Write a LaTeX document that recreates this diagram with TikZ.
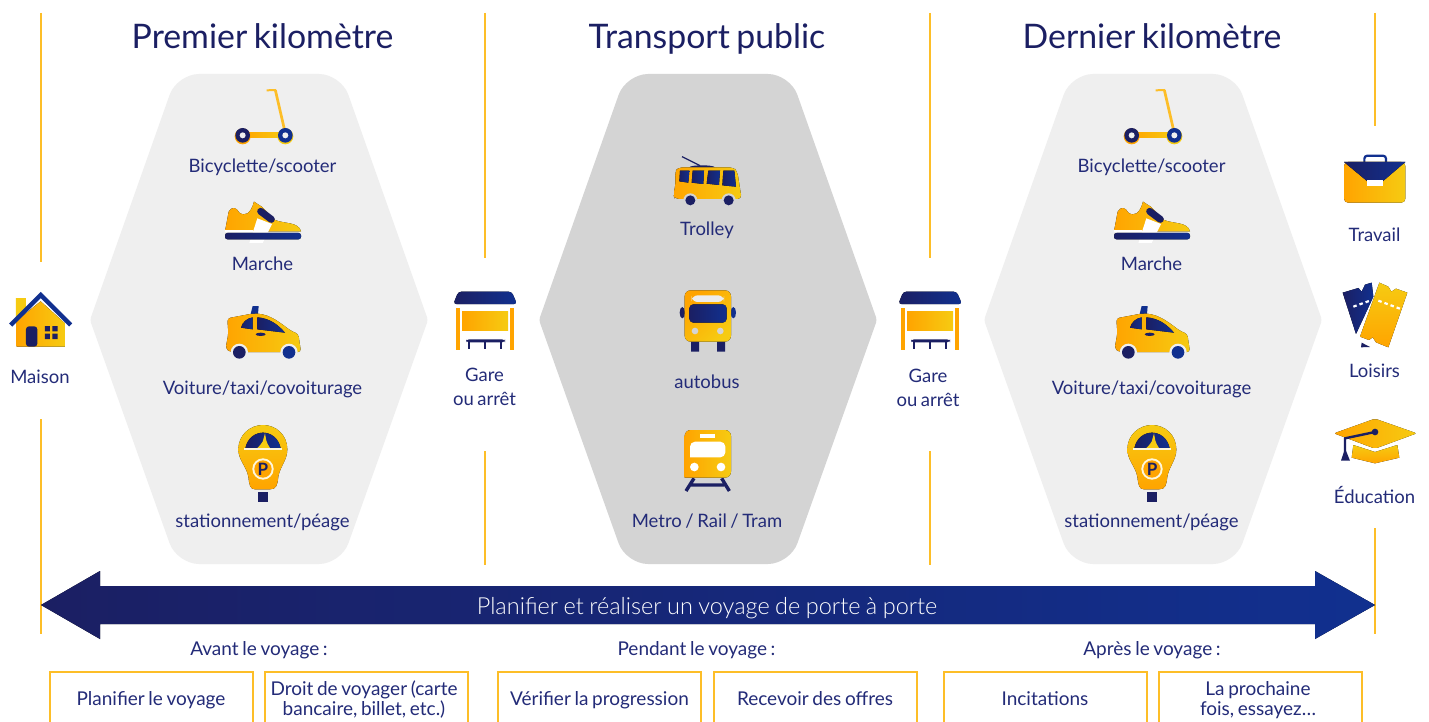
\documentclass[tikz,border=0pt]{standalone}
\usepackage{fontspec}
\setmainfont{Lato}[WordSpace=0.75]
\newfontfamily\lightf{Lato Light}[WordSpace=0.85]
\definecolor{goldL}{HTML}{FFA400}
\definecolor{goldR}{HTML}{F6CB12}
\definecolor{navyL}{HTML}{1B1F63}
\definecolor{navyR}{HTML}{11308F}
\definecolor{txt}{HTML}{232B78}
\definecolor{rule}{HTML}{FDBE28}
\definecolor{hexA}{HTML}{EFEFEF}
\definecolor{hexB}{HTML}{D4D4D4}
\tikzset{
 gold/.style={left color=goldL,right color=goldR,draw=none},
 goldv/.style={top color=goldR,bottom color=goldL,draw=none},
 navy/.style={left color=navyL,right color=navyR,draw=none},
 vline/.style={draw=rule,line width=1.2pt},
 lab/.style={text=txt,font=\fontsize{18.5}{24}\selectfont,inner sep=0pt,align=center,text height=14pt,text depth=4pt},
 phase/.style={lab,font=\fontsize{19}{24}\selectfont},
 boxtxt/.style={text=txt,font=\fontsize{19}{20}\selectfont,inner sep=0pt,align=center,text height=14pt,text depth=4pt},
 ttl/.style={text=navyL,font=\fontsize{33.8}{36}\selectfont,inner sep=0pt,text height=24pt,text depth=7pt},
 zoomed/.style={shift={#1},scale=1/3},
}
\newcommand{\hexshape}[2]{% left x, fill
 \fill[#2] (#1+169,74) [rounded corners=22pt] -- (#1+251,74) [rounded corners=3pt] -- (#1+338,320) [rounded corners=22pt] -- (#1+251,564) -- (#1+87,564) [rounded corners=3pt] -- (#1+0,320) [rounded corners=22pt] -- (#1+87,74) -- cycle;
}
\newcommand{\scootericon}{%
 \begin{scope}[zoomed={(170,70)}]
  \draw[rule,line width=2pt] (290,61) -- (318,60);
  \draw[rule,line width=2.7pt] (316,60) -- (346,190);
  \fill[gold] (218,188) -- (346,188) -- (346,203) -- (218,203) -- cycle;
  \fill[goldL] (218,199) circle (24);
  \fill[goldR] (346,199) circle (24);
  \fill[navyL] (218,196) circle (22);
  \fill[navyR] (346,196) circle (22);
  \fill[hexA] (218,196) circle (9);
  \fill[hexA] (346,196) circle (9);
 \end{scope}}
\newcommand{\shoeicon}{%
 \begin{scope}[zoomed={(170,70)}]
  \fill[gold] (165,484) -- (176,425) .. controls (185,408) and (200,412) .. (208,428) .. controls (225,440) and (242,432) .. (252,395) -- (275,410) -- (315,450) .. controls (345,462) and (385,455) .. (393,484) -- cycle;
  \fill[white] (238,519) -- (262,445) -- (306,462) -- (278,519) -- cycle;
  \fill[white] (165,480) rectangle (250,485);
  \draw[navyL,line width=7pt,line cap=round] (272,424) -- (304,448);
  \fill[navy,rounded corners=2.5pt] (165,489) -- (393,489) -- (393,508) -- (165,508) -- cycle;
 \end{scope}}
\newcommand{\taxiicon}{%
 \begin{scope}[zoomed={(170,290)}]
  \fill[navyR] (248,48) -- (266,48) -- (264,72) -- (242,72) -- cycle;
  \fill[gold,rounded corners=3pt] (172,85) -- (240,72) .. controls (290,68) and (320,90) .. (362,122) -- (385,132) -- (393,186) -- (180,186) -- (167,175) -- (175,130) -- cycle;
  \fill[hexA] (208,187) circle (26);
  \fill[hexA] (357,187) circle (26);
  \fill[hexA] (180,190) rectangle (400,215);
  \fill[navyL] (208,187) circle (19);
  \fill[navyR] (357,187) circle (19);
  \fill[navy] (213,113) .. controls (218,95) and (232,85) .. (248,82) -- (248,118) -- cycle;
  \fill[navy] (262,82) .. controls (300,85) and (325,105) .. (345,128) -- (262,118) -- cycle;
  \fill[navyL] (272,133) ellipse (15 and 5);
 \end{scope}}
\newcommand{\panel}[2]{% prefix, x offset
 \begin{scope}[shift={(#2,0)}]
  \scootericon \shoeicon \taxiicon
  \begin{scope}[zoomed={(170,290)}]
   \fill[navyL] (265,605) rectangle (293,636);
   \fill[goldv] (205,478) .. controls (205,435) and (240,405) .. (279,405) .. controls (318,405) and (352,435) .. (352,478) .. controls (352,510) and (330,530) .. (325,560) .. controls (322,585) and (320,598) .. (300,598) -- (255,598) .. controls (240,598) and (238,585) .. (235,560) .. controls (230,530) and (205,510) .. (205,478) -- cycle;
   \fill[navy] (226,475) .. controls (232,445) and (255,428) .. (279,428) .. controls (303,428) and (326,445) .. (332,475) -- cycle;
   \fill[goldR] (285,430) -- (289,452) .. controls (290,460) and (296,466) .. (301,476) -- (260,476) .. controls (268,468) and (274,462) .. (278,455) -- cycle;
   \fill[white!85!goldR] (221,475) rectangle (337,479);
   \fill[white!85!goldR] (279,537) circle (32);
   \fill[goldL] (279,537) circle (26);
  \end{scope}
  \node[name=#1P,text=navyL,font=\bfseries\fontsize{17}{17}\selectfont,inner sep=0pt] at (263,469) {P};
  \node[lab,name=#1a] at (262.5,168) {Bicyclette/scooter};
  \node[lab,name=#1b] at (262.5,265) {Marche};
  \node[lab,name=#1c] at (262.5,389) {Voiture/taxi/covoiturage};
  \node[lab,name=#1d] at (262.5,522) {stationnement/péage};
 \end{scope}}
\newcommand{\shelter}[1]{%
 \begin{scope}[zoomed={(430+#1,280)}]
  \fill[navy,rounded corners=3pt] (85,35) -- (245,35) -- (261,72) -- (70,72) -- cycle;
  \fill[goldL] (78,84) rectangle (90,210);
  \fill[goldL] (240,84) rectangle (252,210);
  \fill[gold] (96,93) rectangle (234,150);
  \fill[navyL,rounded corners=3pt] (108,178) rectangle (225,187);
  \fill[navyL] (115,185) rectangle (121,208);
  \fill[navyL] (163,185) rectangle (169,208);
  \fill[navyL] (211,185) rectangle (217,208);
 \end{scope}}
\begin{document}
\begin{tikzpicture}[x=1pt,y=-1pt]
\useasboundingbox (0,0) rectangle (1429,722);
\fill[white] (0,0) rectangle (1429,722);
% vertical rules
\draw[vline] (41,13) -- (41,262) (41,419) -- (41,634);
\draw[vline] (485,13) -- (485,258) (485,451) -- (485,565);
\draw[vline] (930,13) -- (930,258) (930,451) -- (930,565);
\draw[vline] (1375,13) -- (1375,126) (1375,528) -- (1375,634);
% hexagons
\hexshape{90}{hexA}
\hexshape{539}{hexB}
\hexshape{984}{hexA}
% titles
\node[ttl,name=t1] at (262.5,40) {Premier kilomètre};
\node[ttl,name=t2] at (707,40) {Transport public};
\node[ttl,name=t3] at (1152,40) {Dernier kilomètre};
% panels
\panel{l}{0}
\panel{r}{889}
% house
\begin{scope}[zoomed={(0,280)}]
 \fill[goldR] (48,54) -- (78,54) -- (78,85) -- (48,115) -- cycle;
 \fill[gold] (50,200) -- (50,122) -- (122,64) -- (195,130) -- (195,200) -- cycle;
 \draw[navyR,line width=4.4pt,miter limit=10] (32,135) -- (122,45) -- (212,135);
 \fill[navyL,rounded corners=3pt] (78,200) -- (78,139) -- (112,139) -- (112,200) -- cycle;
 \fill[navyL] (135,138) rectangle (150,154) (157,138) rectangle (173,154) (135,161) rectangle (150,177) (157,161) rectangle (173,177);
\end{scope}
\node[lab,name=maison] at (40,378) {Maison};
% shelters
\shelter{0}
\shelter{445}
\node[lab,name=g1] at (484.5,400) {Gare\\ou arrêt};
\node[lab,name=g2] at (928,401) {Gare\\ou arrêt};
% trolley
\begin{scope}[zoomed={(640,140)}]
 \fill[navyL] (148,82) .. controls (150,74) and (222,74) .. (225,82) -- cycle;
 \draw[navyL,line width=1.2pt] (126,50) -- (180,77);
 \fill[gold,rounded corners=4pt] (115,82) -- (280,82) -- (292,95) -- (305,177) -- (105,177) -- (100,165) -- (107,130) -- (105,95) -- cycle;
 \fill[hexB] (151,181) circle (21) (266,181) circle (21);
 \fill[hexB] (100,178) rectangle (310,205);
 \fill[navyL] (151,181) circle (15) (266,181) circle (15);
 \fill[navy] (120,92) -- (148,92) -- (145,128) -- (118,124) -- cycle;
 \fill[navy] (158,92) -- (192,92) -- (190,132) -- (155,128) -- cycle;
 \fill[navy] (205,92) -- (240,92) -- (237,135) -- (200,131) -- cycle;
 \fill[navy] (250,92) -- (283,92) -- (288,140) -- (247,136) -- cycle;
\end{scope}
\node[lab,name=trolley] at (707,231) {Trolley};
% bus
\begin{scope}[zoomed={(640,140)}]
 \fill[navyL] (127,518) ellipse (8 and 17);
 \fill[navyR] (280,518) ellipse (8 and 17);
 \fill[navyL] (153,604) rectangle (177,635) (231,604) rectangle (255,635);
 \fill[left color=goldL,right color=goldR,shading angle=45,rounded corners=6pt] (134,451) rectangle (273,605);
 \fill[hexB!45!white,rounded corners=6pt] (155,466) rectangle (252,486);
 \fill[navy,rounded corners=4pt] (148,493) rectangle (260,548);
 \fill[hexB] (165,573) circle (10) (241,573) circle (10);
\end{scope}
\node[lab,name=autobus] at (707,383) {autobus};
% train
\begin{scope}[zoomed={(640,350)}]
 \draw[navyL,line width=3.4pt] (162,385) -- (138,423) (245,385) -- (268,423) (153,405) -- (252,405);
 \fill[gold,rounded corners=6pt] (134,383) -- (134,240) -- (273,240) -- (273,383) [sharp corners] -- cycle;
 \fill[white] (180,252) rectangle (225,264);
 \fill[white,rounded corners=5pt] (150,322) -- (150,275) -- (256,275) -- (256,322) [sharp corners] -- cycle;
 \fill[white] (163,351) circle (13) (243,351) circle (13);
\end{scope}
\node[lab,name=metro] at (707,522) {Metro / Rail / Tram};
% briefcase
\begin{scope}[zoomed={(1320,140)}]
 \draw[navyR,line width=2.2pt,rounded corners=3pt] (133,66) -- (133,47) -- (198,47) -- (198,66);
 \fill[gold,rounded corners=4pt] (72,66) -- (256,66) -- (256,188) -- (72,188) -- cycle;
 \fill[navy] (72,66) -- (256,66) -- (188,124) -- (142,124) -- cycle;
 \fill[white] (141,120) rectangle (190,137);
\end{scope}
\node[lab,name=travail] at (1374.5,236) {Travail};
% tickets
\begin{scope}[zoomed={(1320,140)}]
 \fill[navy] (68,458) -- (115,444) -- (125,455) -- (135,434) -- (155,428) -- (160,470) -- (108,582) -- cycle;
 \fill[navyL] (125,608) -- (150,621) -- (123,622) -- cycle;
 \fill[goldv] (178,428) -- (205,440) -- (214,455) -- (228,446) -- (262,458) -- (205,622) -- (168,607) -- (158,592) -- (147,600) -- (120,590) -- cycle;
 \draw[white,line width=2.2pt,dash pattern=on 3.5pt off 3pt] (100,500) -- (150,482);
 \draw[white,line width=2.2pt,dash pattern=on 3.5pt off 3pt] (175,482) -- (245,508);
\end{scope}
\node[lab,name=loisirs] at (1374.5,372) {Loisirs};
% cap
\begin{scope}[zoomed={(1320,340)}]
 \fill[gold,rounded corners=2pt] (42,280) -- (165,236) -- (290,280) -- (165,326) -- cycle;
 \fill[goldv] (100,315) -- (165,336) -- (232,315) -- (238,353) -- (165,370) -- (95,353) -- cycle;
 \draw[navyL,line width=2.4pt] (165,276) -- (75,295) -- (75,335);
 \fill[navyL] (165,276) circle (10);
 \fill[navyL] (75,325) -- (63,362) -- (90,362) -- cycle;
\end{scope}
\node[lab,name=educ] at (1374.5,498) {Éducation};
% big arrow
\fill[left color=navyL,right color=navyR] (41,605) -- (100,571) -- (100,586) -- (1315,586) -- (1315,571) -- (1375,605) -- (1315,639) -- (1315,624) -- (100,624) -- (100,639) -- cycle;
\node[name=plan,text=white,font=\lightf\fontsize{23.5}{24}\selectfont,inner sep=0pt] at (707,608) {Planifier et réaliser un voyage de porte à porte};
% phase labels
\node[phase,name=p1] at (259,650) {Avant le voyage :};
\node[phase,name=p2] at (696.5,650) {Pendant le voyage :};
\node[phase,name=p3] at (1152,650) {Après le voyage :};
% boxes
\foreach \a/\b in {50/253,265/468,498/701,714/917,944/1147,1159/1362}
 \draw[vline] (\a,722) -- (\a,672) -- (\b,672) -- (\b,722);
\node[boxtxt,name=b1] at (151,700) {Planifier le voyage};
\node[boxtxt,name=b2] at (364,710.5) {Droit de voyager (carte\\bancaire, billet, etc.)};
\node[boxtxt,name=b3] at (599.5,700) {Vérifier la progression};
\node[boxtxt,name=b4] at (815,700) {Recevoir des offres};
\node[boxtxt,name=b5] at (1045,700) {Incitations};
\node[boxtxt,name=b6] at (1258,710.5) {La prochaine\\fois, essayez…};
\end{tikzpicture}
\end{document}
